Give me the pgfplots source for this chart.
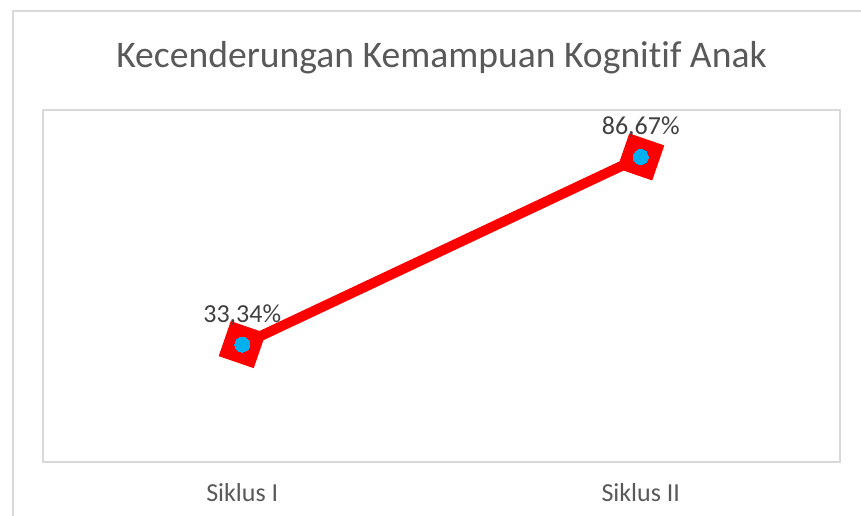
\documentclass[border=0pt]{standalone}
\usepackage{fontspec}
\setmainfont[Ligatures={NoCommon}]{Carlito}
\usepackage{pgfplots}
\pgfplotsset{compat=1.18}
\definecolor{lbl}{HTML}{404040}
\definecolor{tit}{HTML}{595959}
\definecolor{bord}{HTML}{D9D9D9}
\definecolor{dot}{HTML}{00B0F0}
\begin{document}
\begin{tikzpicture}
\useasboundingbox (0,0) rectangle (430.5bp,258bp);
\draw[bord, line width=0.75bp] (6.5bp,0) -- (6.5bp,252.5bp) -- (430.5bp,252.5bp);
\begin{axis}[
    at={(21.5bp,27bp)}, anchor=south west,
    width=398.5bp, height=176bp, scale only axis,
    xmin=-0.5, xmax=1.5, ymin=0, ymax=100,
    xtick=data, xticklabels={Siklus I, Siklus II},
    ytick=\empty, major tick length=0pt,
    axis line style={draw=bord, line width=1bp},
    ticklabel style={font=\fontsize{13bp}{15bp}\selectfont, text=tit},
    xticklabel style={anchor=base, yshift=-19.5bp},
    clip=false,
]
\addplot[red, line width=5bp, mark=square*,
    mark options={rotate=-19, mark size=9bp, fill=red, draw=red, line width=0.5bp},
    point meta=explicit symbolic, nodes near coords,
    nodes near coords style={anchor=base, yshift=11bp, text=lbl,
        font=\fontsize{13bp}{15bp}\selectfont}]
    coordinates {(0,33.34) [33,34\%] (1,86.67) [86,67\%]};
\addplot[only marks, color=dot, mark=*, mark size=3.75bp,
    mark options={fill=dot, draw=dot, line width=0pt}]
    coordinates {(0,33.34) (1,86.67)};
\end{axis}
\node[anchor=base, text=tit, font=\fontsize{18.8bp}{22bp}\selectfont]
    at (220.75bp,224bp) {Kecenderungan Kemampuan Kognitif Anak};
\end{tikzpicture}
\end{document}
